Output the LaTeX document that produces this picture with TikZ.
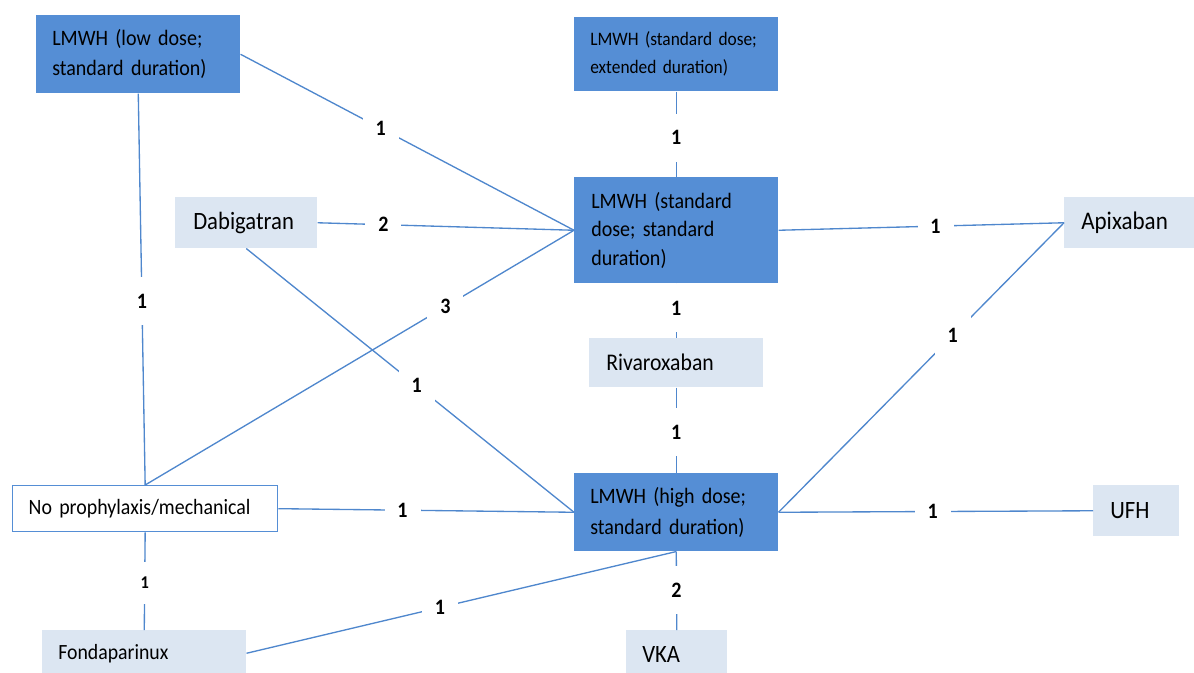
\documentclass[tikz,border=0pt]{standalone}
\usepackage{fontspec}
\setmainfont[FakeStretch=0.91]{Carlito}
\definecolor{darkbox}{RGB}{85,142,213}
\definecolor{lightbox}{RGB}{220,230,242}
\definecolor{edgecol}{RGB}{79,135,205}
\begin{document}
\begin{tikzpicture}[x=0.75pt,y=-0.75pt,
  box/.style={rectangle, anchor=north west, inner ysep=0pt, align=left, text=black},
  dbox/.style={box, fill=darkbox},
  lbox/.style={box, fill=lightbox},
  wbox/.style={box, draw=darkbox, line width=1pt, fill=white},
  conn/.style={draw=edgecol, line width=1pt},
  lab/.style={fill=white, inner sep=0pt, minimum width=27pt, minimum height=36pt, font=\bfseries\fontsize{16.5}{19}\selectfont},
  smalllab/.style={lab, minimum height=32pt, font=\bfseries\fontsize{13.5}{16}\selectfont}]
\useasboundingbox (0,0) rectangle (1194,673);
\begin{scope}
\clip (0,0) rectangle (1194,673);
% nodes
\node[dbox, minimum width=153pt, minimum height=58.5pt, text width=129pt, inner xsep=12pt,
  font=\fontsize{16.5}{22.5}\selectfont] (low) at (36,15) {LMWH (low dose;\\standard duration)};
\node[dbox, minimum width=153pt, minimum height=55.5pt, text width=129pt, inner xsep=12pt,
  font=\fontsize{14.3}{21}\selectfont] (ext) at (574,17) {LMWH (standard dose;\\extended duration)};
\node[dbox, minimum width=153pt, minimum height=79.5pt, text width=127.5pt, inner xsep=12.75pt,
  font=\fontsize{16.5}{21.4}\selectfont] (std) at (574,177) {LMWH (standard\\dose; standard\\duration)};
\node[dbox, minimum width=153pt, minimum height=58.5pt, text width=129pt, inner xsep=12pt,
  font=\fontsize{16.5}{23}\selectfont] (high) at (574,473) {LMWH (high dose;\\standard duration)};
\node[lbox, minimum width=106.5pt, minimum height=38.25pt, text width=79.5pt, inner xsep=13.5pt,
  font=\fontsize{18.7}{22}\selectfont] (dabi) at (175,197) {Dabigatran};
\node[lbox, minimum width=99pt, minimum height=38.25pt, text width=73.5pt, inner xsep=12.75pt,
  font=\fontsize{19}{22}\selectfont] (apix) at (1064,197) {Apixaban};
\node[lbox, minimum width=130.5pt, minimum height=36.75pt, text width=105pt, inner xsep=12.75pt,
  font=\fontsize{17.9}{21}\selectfont] (riva) at (589,338) {Rivaroxaban};
\node[wbox, minimum width=198.75pt, minimum height=34.5pt, text width=174.75pt, inner xsep=12pt,
  font=\fontsize{16.4}{19}\selectfont] (noproph) at (12,485) {No prophylaxis/mechanical};
\node[lbox, minimum width=64.5pt, minimum height=38.25pt, text width=39pt, inner xsep=12.75pt,
  font=\fontsize{18.7}{22}\selectfont] (ufh) at (1093,485) {UFH};
\node[lbox, minimum width=153pt, minimum height=34.5pt, text width=129pt, inner xsep=12pt,
  font=\fontsize{16.3}{19}\selectfont] (fonda) at (42,630) {Fondaparinux};
\node[lbox, minimum width=75.75pt, minimum height=36.75pt, text width=51.75pt, inner xsep=12pt,
  font=\fontsize{18.7}{22}\selectfont] (vka) at (626,630) {VKA};
% connectors
\draw[conn] (low.east) -- node[lab, pos=0.42]{1} (std.west);
\draw[conn] (low.south) -- node[lab, pos=0.53]{1} (noproph.north);
\draw[conn] (ext.south) -- node[lab, pos=0.54]{1} (std.north);
\draw[conn] (dabi.east) -- node[lab, pos=0.257]{2} (std.west);
\draw[conn] (noproph.north) -- node[lab, pos=0.70]{3} (std.west);
\draw[conn] (dabi.south) -- node[lab, pos=0.52]{1} (high.west);
\draw[conn] (noproph.east) -- node[lab, pos=0.42]{1} (high.west);
\draw[conn] (std.south) -- node[lab, pos=0.45]{1} (riva.north);
\draw[conn] (riva.south) -- node[lab, pos=0.52]{1} (high.north);
\draw[conn] (high.south) -- node[lab, pos=0.49]{2} (vka.north);
\draw[conn] (noproph.south) -- node[smalllab, pos=0.52]{1} (fonda.north);
\draw[conn] (fonda.east) -- node[lab, pos=0.45]{1} (high.south);
\draw[conn] (std.east) -- node[lab, pos=0.55]{1} (apix.west);
\draw[conn] (high.east) -- node[lab, pos=0.61]{1} (apix.west);
\draw[conn] (high.east) -- node[lab, pos=0.49]{1} (ufh.west);
\end{scope}
\end{tikzpicture}
\end{document}
